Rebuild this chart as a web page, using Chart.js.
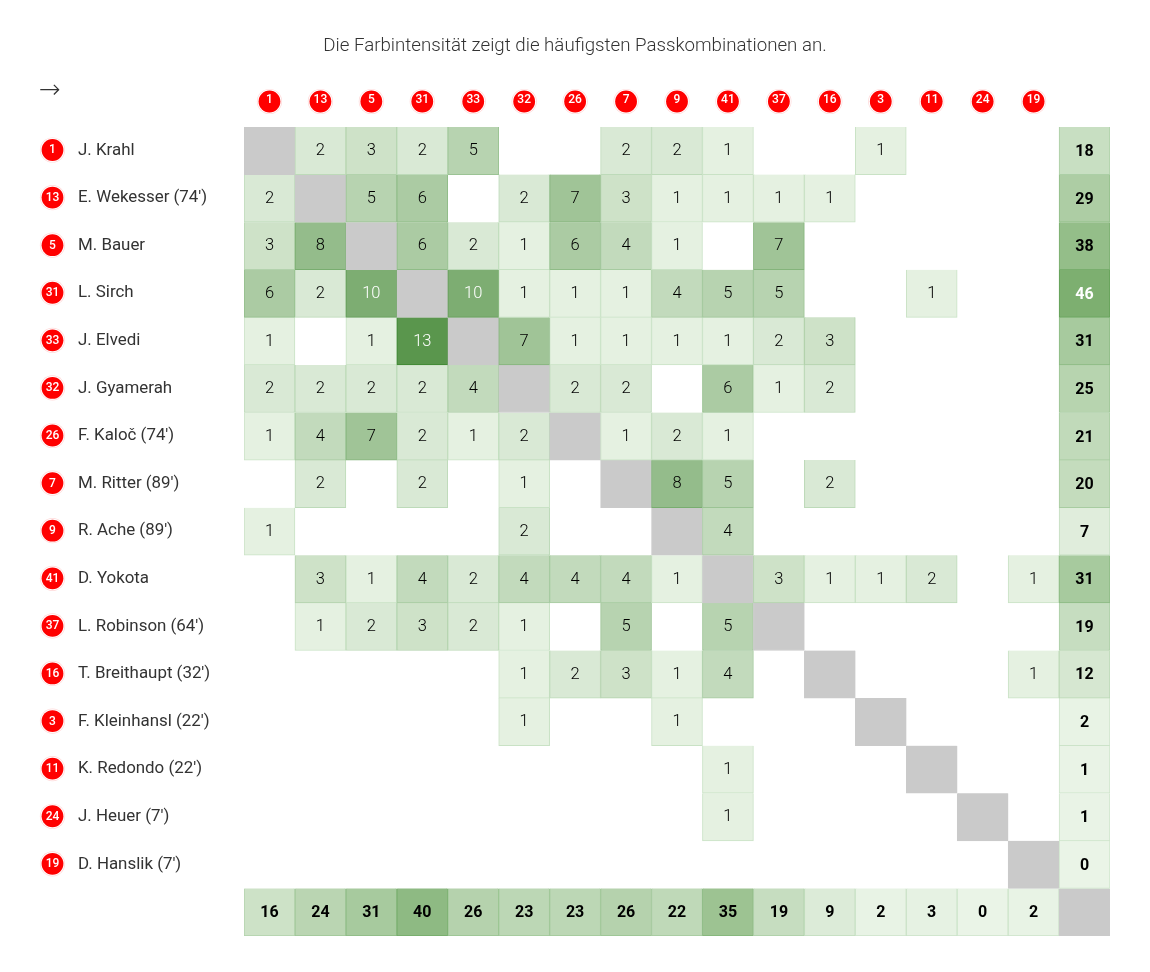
<!DOCTYPE html>
<html>
<head>
<meta charset="utf-8">
<title>Passkombinationen</title>
<script src="https://cdn.jsdelivr.net/npm/chart.js@4/dist/chart.umd.min.js"></script>
<style>
  html, body { margin: 0; padding: 0; background: #fff; }
  canvas { display: block; }
</style>
</head>
<body>
<canvas id="passChart" width="1150" height="972"></canvas>
<script>
var title = "Die Farbintensität zeigt die häufigsten Passkombinationen an.";
var numbers = ["1", "13", "5", "31", "33", "32", "26", "7", "9", "41", "37", "16", "3", "11", "24", "19"];
var players = ["J. Krahl", "E. Wekesser (74')", "M. Bauer", "L. Sirch", "J. Elvedi", "J. Gyamerah", "F. Kaloč (74')", "M. Ritter (89')", "R. Ache (89')", "D. Yokota", "L. Robinson (64')", "T. Breithaupt (32')", "F. Kleinhansl (22')", "K. Redondo (22')", "J. Heuer (7')", "D. Hanslik (7')"];

// one row per passer, 0 = no passes (diagonal is grey)
var passes = [
  [0, 2, 3, 2, 5, 0, 0, 2, 2, 1, 0, 0, 1, 0, 0, 0],
  [2, 0, 5, 6, 0, 2, 7, 3, 1, 1, 1, 1, 0, 0, 0, 0],
  [3, 8, 0, 6, 2, 1, 6, 4, 1, 0, 7, 0, 0, 0, 0, 0],
  [6, 2, 10, 0, 10, 1, 1, 1, 4, 5, 5, 0, 0, 1, 0, 0],
  [1, 0, 1, 13, 0, 7, 1, 1, 1, 1, 2, 3, 0, 0, 0, 0],
  [2, 2, 2, 2, 4, 0, 2, 2, 0, 6, 1, 2, 0, 0, 0, 0],
  [1, 4, 7, 2, 1, 2, 0, 1, 2, 1, 0, 0, 0, 0, 0, 0],
  [0, 2, 0, 2, 0, 1, 0, 0, 8, 5, 0, 2, 0, 0, 0, 0],
  [1, 0, 0, 0, 0, 2, 0, 0, 0, 4, 0, 0, 0, 0, 0, 0],
  [0, 3, 1, 4, 2, 4, 4, 4, 1, 0, 3, 1, 1, 2, 0, 1],
  [0, 1, 2, 3, 2, 1, 0, 5, 0, 5, 0, 0, 0, 0, 0, 0],
  [0, 0, 0, 0, 0, 1, 2, 3, 1, 4, 0, 0, 0, 0, 0, 1],
  [0, 0, 0, 0, 0, 1, 0, 0, 1, 0, 0, 0, 0, 0, 0, 0],
  [0, 0, 0, 0, 0, 0, 0, 0, 0, 1, 0, 0, 0, 0, 0, 0],
  [0, 0, 0, 0, 0, 0, 0, 0, 0, 1, 0, 0, 0, 0, 0, 0],
  [0, 0, 0, 0, 0, 0, 0, 0, 0, 0, 0, 0, 0, 0, 0, 0]
];
var rowTotals = [18, 29, 38, 46, 31, 25, 21, 20, 7, 31, 19, 12, 2, 1, 1, 0];
var colTotals = [16, 24, 31, 40, 26, 23, 23, 26, 22, 35, 19, 9, 2, 3, 0, 2];

var N = numbers.length;
var xLabels = numbers.concat([""]);
var rowIdx = [];
for (var i = 0; i <= N; i++) rowIdx.push(i);

function isGrey(r, c) { return r === c; }
function isTotal(r, c) { return r === N || c === N; }
function cellValue(r, c) {
  if (isGrey(r, c)) return null;
  if (r === N) return colTotals[c];
  if (c === N) return rowTotals[r];
  return passes[r][c] || null;
}
// colours: pale green to dark green
function cellRgb(r, c, darken) {
  var v = cellValue(r, c), t, low, high;
  if (isTotal(r, c)) {
    t = Math.pow(v / 46, 1.25);
    low = [234, 244, 231];
    high = [125, 175, 112];
  } else {
    t = (v - 1) / 12;
    low = [229, 241, 225];
    high = [90, 150, 77];
  }
  return "rgb(" + low.map(function (l, i) {
    return Math.round(l + (high[i] - l) * t - darken * (i === 1 ? 0.55 : 1));
  }).join(",") + ")";
}
function fillColor(ctx) {
  var r = ctx.datasetIndex, c = ctx.dataIndex;
  return isGrey(r, c) ? "#cacaca" : cellRgb(r, c, 0);
}
function edgeColor(ctx) {
  var r = ctx.datasetIndex, c = ctx.dataIndex;
  return isGrey(r, c) ? "#cacaca" : cellRgb(r, c, 28);
}

var datasets = rowIdx.map(function (r) {
  return {
    label: r < N ? players[r] : "Summe",
    data: rowIdx.map(function (c) {
      return (isGrey(r, c) || cellValue(r, c) !== null) ? [r - 0.5, r + 0.5] : null;
    }),
    backgroundColor: fillColor,
    borderColor: edgeColor,
    borderWidth: 1,
    grouped: false,
    barPercentage: 1,
    categoryPercentage: 1
  };
});

function badge(ctx, x, y) {
  ctx.beginPath();
  ctx.arc(x, y, 12.6, 0, Math.PI * 2);
  ctx.fillStyle = "#ffd9d9";
  ctx.fill();
  ctx.beginPath();
  ctx.arc(x, y, 11.9, 0, Math.PI * 2);
  ctx.fillStyle = "#fff";
  ctx.fill();
  ctx.beginPath();
  ctx.arc(x, y, 10.9, 0, Math.PI * 2);
  ctx.fillStyle = "#ff0000";
  ctx.fill();
}

var matrixPlugin = {
  id: "matrixPlugin",
  // circles go under the x axis tick labels
  beforeDraw: function (chart) {
    var ctx = chart.ctx, sx = chart.scales.x, sy = chart.scales.y;
    ctx.save();
    numbers.forEach(function (n, c) {
      badge(ctx, sx.getPixelForValue(c), 101.5);
    });
    players.forEach(function (p, r) {
      var y = sy.getPixelForValue(r) - 0.8;
      badge(ctx, 52.5, y);
      ctx.fillStyle = "#fff";
      ctx.font = "500 12px Roboto";
      ctx.textAlign = "center";
      ctx.textBaseline = "middle";
      ctx.fillText(numbers[r], 52.5, y + 0.5);
      ctx.fillStyle = "#333";
      ctx.font = "400 16.9px Roboto";
      ctx.textAlign = "left";
      ctx.fillText(p, 78, y + 0.5);
    });
    ctx.fillStyle = "#333";
    ctx.font = "300 26px 'DejaVu Sans'";
    ctx.textAlign = "left";
    ctx.fillText("→", 39, 91.5);
    ctx.restore();
  },
  afterDatasetsDraw: function (chart) {
    var ctx = chart.ctx, sx = chart.scales.x, sy = chart.scales.y;
    ctx.save();
    ctx.textAlign = "center";
    ctx.textBaseline = "middle";
    rowIdx.forEach(function (r) {
      rowIdx.forEach(function (c) {
        var v = cellValue(r, c);
        if (v === null) return;
        if (isTotal(r, c)) {
          ctx.font = "bold 16px Roboto";
          ctx.fillStyle = v >= 46 ? "#fff" : "#000";
          ctx.fillText(String(v), sx.getPixelForValue(c), sy.getPixelForValue(r) + 1.2);
        } else {
          ctx.font = "300 16.5px Roboto";
          ctx.fillStyle = v >= 10 ? "#fff" : "#000";
          ctx.fillText(String(v), sx.getPixelForValue(c), sy.getPixelForValue(r) + 0.3);
        }
      });
    });
    ctx.restore();
  }
};

new Chart(document.getElementById("passChart"), {
  type: "bar",
  data: { labels: xLabels, datasets: datasets },
  plugins: [matrixPlugin],
  options: {
    responsive: false,
    animation: false,
    layout: { padding: { left: 40, right: 40, top: 0, bottom: 36 } },
    plugins: {
      legend: { display: false },
      tooltip: { enabled: false },
      title: {
        display: true,
        text: title,
        color: "#333",
        font: { family: "Roboto", size: 18.7, weight: "300", lineHeight: 1 },
        padding: { top: 37, bottom: 4.3 }
      }
    },
    scales: {
      x: {
        position: "top",
        grid: { display: false, drawTicks: false },
        border: { display: false },
        afterFit: function (scale) { scale.height = 67; },
        ticks: {
          color: "#fff",
          autoSkip: false,
          maxRotation: 0,
          padding: 20,
          font: { family: "Roboto", size: 12, weight: "500" }
        }
      },
      y: {
        reverse: true,
        min: -0.5,
        max: N + 0.5,
        grid: { display: false, drawTicks: false },
        border: { display: false },
        ticks: { display: false },
        afterFit: function (scale) { scale.width = 204; }
      }
    }
  }
});
</script>
</body>
</html>
